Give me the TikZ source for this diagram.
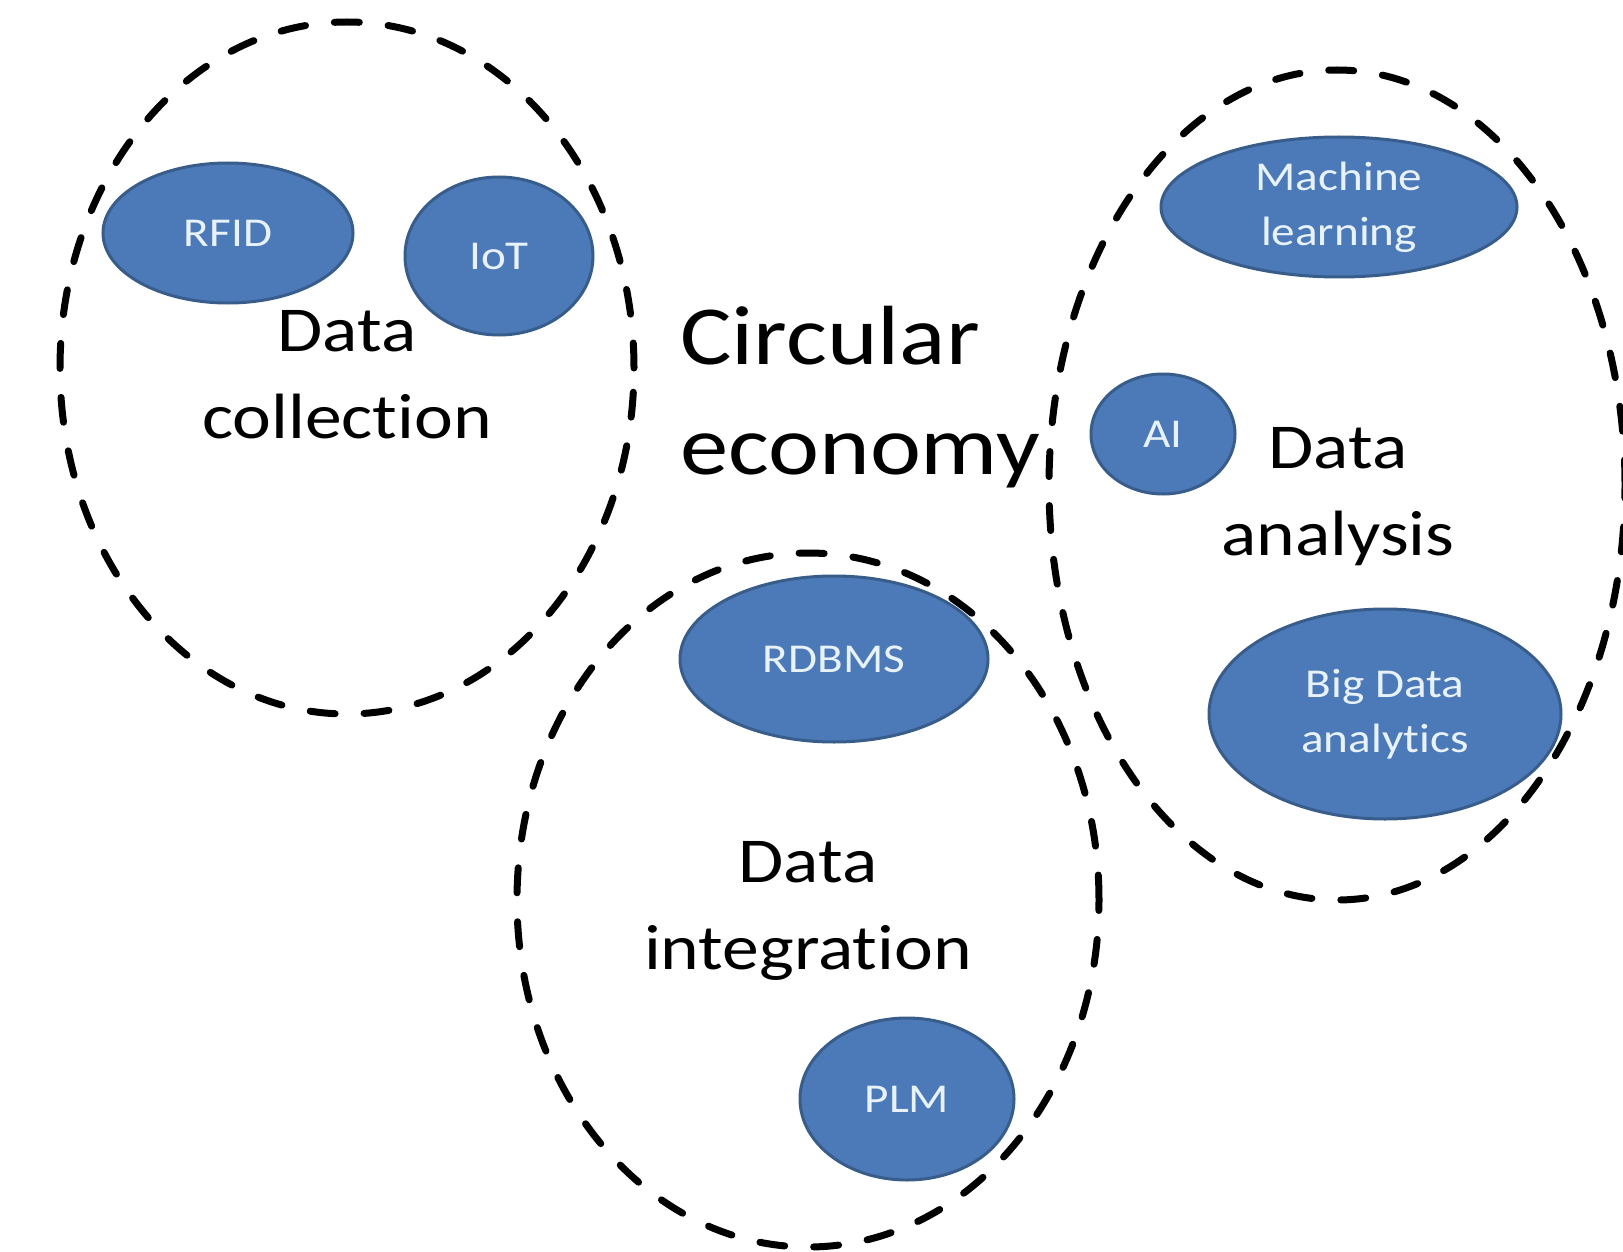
\documentclass[tikz,border=0pt]{standalone}
\usepackage{fontspec}
\setmainfont{Carlito}[FakeStretch=1.15, Ligatures=NoCommon]
\usetikzlibrary{shapes.geometric}
\definecolor{bluefill}{RGB}{76,122,184}
\definecolor{blueedge}{RGB}{56,93,138}
\definecolor{labeltext}{RGB}{232,242,250}
\tikzset{
  tech/.style={ellipse, fill=bluefill, draw=blueedge, line width=3pt, text=labeltext,
    font=\fontsize{41}{55}\selectfont, align=center, inner sep=0pt},
  group/.style={ellipse, draw=black, line width=7pt, line cap=round, dash pattern=on 25pt off 29pt, inner sep=0pt},
  grouplabel/.style={font=\fontsize{64}{87}\selectfont, align=center, inner sep=0pt},
  titlelabel/.style={font=\fontsize{84}{110}\selectfont, align=left, inner sep=0pt, anchor=west},
}
\begin{document}
\begin{tikzpicture}[x=1pt,y=-1pt]
\useasboundingbox (0,0) rectangle (1623,1252);
\fill[white] (0,0) rectangle (1623,1252);
\clip (0,0) rectangle (1623,1252);
% technology ellipses
\node[tech, minimum width=250pt, minimum height=140pt] (rfid) at (228,233) {RFID};
\node[tech, minimum width=188pt, minimum height=158pt] (iot) at (499,256) {IoT};
\node[tech, minimum width=356pt, minimum height=140pt] (ml) at (1339,207) {Machine\\learning};
\node[tech, minimum width=144pt, minimum height=120pt] (ai) at (1163,434) {AI};
\node[tech, minimum width=352pt, minimum height=210pt] (bda) at (1385,714) {Big Data\\analytics};
\node[tech, minimum width=308pt, minimum height=166pt] (rdbms) at (834,659) {RDBMS};
\node[tech, minimum width=214pt, minimum height=162pt] (plm) at (907,1099) {PLM};
% dashed groups
\node[group, minimum width=574pt, minimum height=692pt] (collection) at (347,368) {};
\node[group, minimum width=576pt, minimum height=830pt] (analysis) at (1337,485) {};
\node[group, minimum width=582pt, minimum height=694pt] (integration) at (808,900) {};
% labels
\node[grouplabel] (lcollection) at (347,375) {Data\\collection};
\node[grouplabel] (lanalysis) at (1338,497) {Data\\analysis};
\node[grouplabel] (lintegration) at (808,911) {Data\\integration};
\node[titlelabel] (ce) at (680,397) {Circular\\economy};
\end{tikzpicture}
\end{document}
